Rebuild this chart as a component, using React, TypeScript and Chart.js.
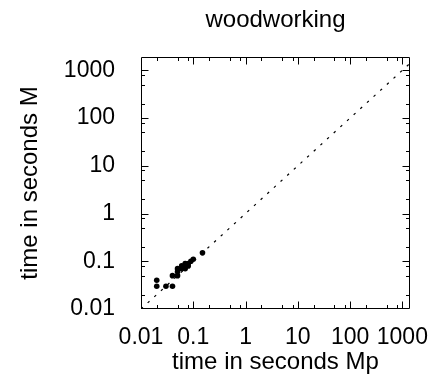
import React, { useEffect, useRef } from "react";
import { Chart, registerables } from "chart.js";

Chart.register(...registerables);

const TITLE = "woodworking";
const X_TITLE = "time in seconds Mp";
const Y_TITLE = "time in seconds M";

const TICK_VALUES = [0.01, 0.1, 1, 10, 100, 1000];
const TICK_LABELS = ["0.01", "0.1", "1", "10", "100", "1000"];
const MINOR_FACTORS = [2, 5, 8];

const X_MIN = 0.01;
const X_MAX = 1400;
const Y_MIN = 0.01;
const Y_MAX = 1900;

const mpTimes = [0.02, 0.02, 0.03, 0.04, 0.04, 0.05, 0.05, 0.05, 0.06, 0.06, 0.07, 0.07, 0.07, 0.08, 0.08, 0.09, 0.1, 0.15];
const mTimes = [0.04, 0.03, 0.03, 0.03, 0.05, 0.05, 0.06, 0.07, 0.07, 0.08, 0.07, 0.08, 0.09, 0.08, 0.09, 0.1, 0.11, 0.15];

const diagonal = [X_MIN, X_MAX];

const FONT = "'Liberation Sans', Arial, Helvetica, sans-serif";

const frameTicks = {
  id: "frameTicks",
  afterDraw(chart: any) {
    const { ctx, chartArea } = chart;
    const xs = chart.scales.x;
    const ys = chart.scales.y;
    const { left, right, top, bottom } = chartArea;
    ctx.save();
    ctx.strokeStyle = "#000";
    ctx.lineWidth = 1;
    ctx.beginPath();
    const L = Math.round(left) + 0.5;
    const R = Math.round(right) - 0.5;
    const T = Math.round(top) + 0.5;
    const B = Math.round(bottom) - 0.5;
    ctx.rect(L, T, R - L, B - T);
    const majorLen = 7;
    const minorLen = 3.5;
    const values: { v: number; len: number }[] = [];
    for (const d of TICK_VALUES) {
      values.push({ v: d, len: majorLen });
      for (const m of MINOR_FACTORS) values.push({ v: d * m, len: minorLen });
    }
    for (const { v, len } of values) {
      if (v >= X_MIN && v <= X_MAX) {
        const px = Math.round(xs.getPixelForValue(v)) + 0.5;
        if (px > L && px < R) {
          ctx.moveTo(px, B);
          ctx.lineTo(px, B - len);
          ctx.moveTo(px, T);
          ctx.lineTo(px, T + len);
        }
      }
      if (v >= Y_MIN && v <= Y_MAX) {
        const py = Math.round(ys.getPixelForValue(v)) + 0.5;
        if (py > T && py < B) {
          ctx.moveTo(L, py);
          ctx.lineTo(L + len, py);
          ctx.moveTo(R, py);
          ctx.lineTo(R - len, py);
        }
      }
    }
    ctx.stroke();
    ctx.restore();
  },
};

export default function App() {
  const ref = useRef<HTMLCanvasElement | null>(null);

  useEffect(() => {
    if (!ref.current) return;
    const tickFont = { family: FONT, size: 23 };
    const chart = new Chart(ref.current, {
      type: "scatter",
      data: {
        datasets: [
          {
            type: "line",
            data: diagonal.map((v) => ({ x: v, y: v })),
            borderColor: "#000",
            borderWidth: 1.2,
            borderDash: [2.5, 6.5],
            pointRadius: 0,
            fill: false,
          } as any,
          {
            data: mpTimes.map((x, i) => ({ x, y: mTimes[i] })),
            backgroundColor: "#000",
            borderWidth: 0,
            pointRadius: 2.8,
          },
        ],
      },
      options: {
        responsive: false,
        animation: false,
        devicePixelRatio: 1,
        layout: { padding: { left: 0, right: 25, top: 0, bottom: 0 } },
        plugins: {
          legend: { display: false },
          tooltip: { enabled: false },
          title: {
            display: true,
            text: TITLE,
            fullSize: false,
            color: "#000",
            font: { family: FONT, size: 24, weight: "normal" },
            padding: { top: 5.6, bottom: 22.6 },
          },
        },
        scales: {
          x: {
            type: "logarithmic",
            min: X_MIN,
            max: X_MAX,
            grid: { display: false },
            border: { display: false },
            afterBuildTicks: (s: any) => {
              s.ticks = TICK_VALUES.map((v) => ({ value: v }));
            },
            afterFit: (s: any) => {
              s.height = 80;
              s.paddingLeft = 0;
              s.paddingRight = 0;
            },
            ticks: {
              autoSkip: false,
              maxRotation: 0,
              minRotation: 0,
              padding: 7,
              color: "#000",
              font: tickFont,
              callback: (_v: any, i: number) => TICK_LABELS[i],
            },
            title: {
              display: true,
              text: X_TITLE,
              color: "#000",
              font: { family: FONT, size: 24 },
              padding: { top: 0, bottom: 12.6 },
            },
          },
          y: {
            type: "logarithmic",
            min: Y_MIN,
            max: Y_MAX,
            grid: { display: false },
            border: { display: false },
            afterBuildTicks: (s: any) => {
              s.ticks = TICK_VALUES.map((v) => ({ value: v }));
            },
            afterFit: (s: any) => {
              s.width = 141;
              s.paddingTop = 0;
              s.paddingBottom = 0;
            },
            ticks: {
              autoSkip: false,
              padding: 18,
              color: "#000",
              font: tickFont,
              callback: (_v: any, i: number) => TICK_LABELS[i],
            },
            title: {
              display: true,
              text: Y_TITLE,
              color: "#000",
              font: { family: FONT, size: 24 },
              padding: { top: 15.6, bottom: 0 },
            },
          },
        },
      },
      plugins: [frameTicks],
    } as any);
    return () => chart.destroy();
  }, []);

  return (
    <div style={{ position: "fixed", left: 0, top: 0, width: 435, height: 389, background: "#fff" }}>
      <canvas ref={ref} width={435} height={389} style={{ display: "block" }} />
    </div>
  );
}
